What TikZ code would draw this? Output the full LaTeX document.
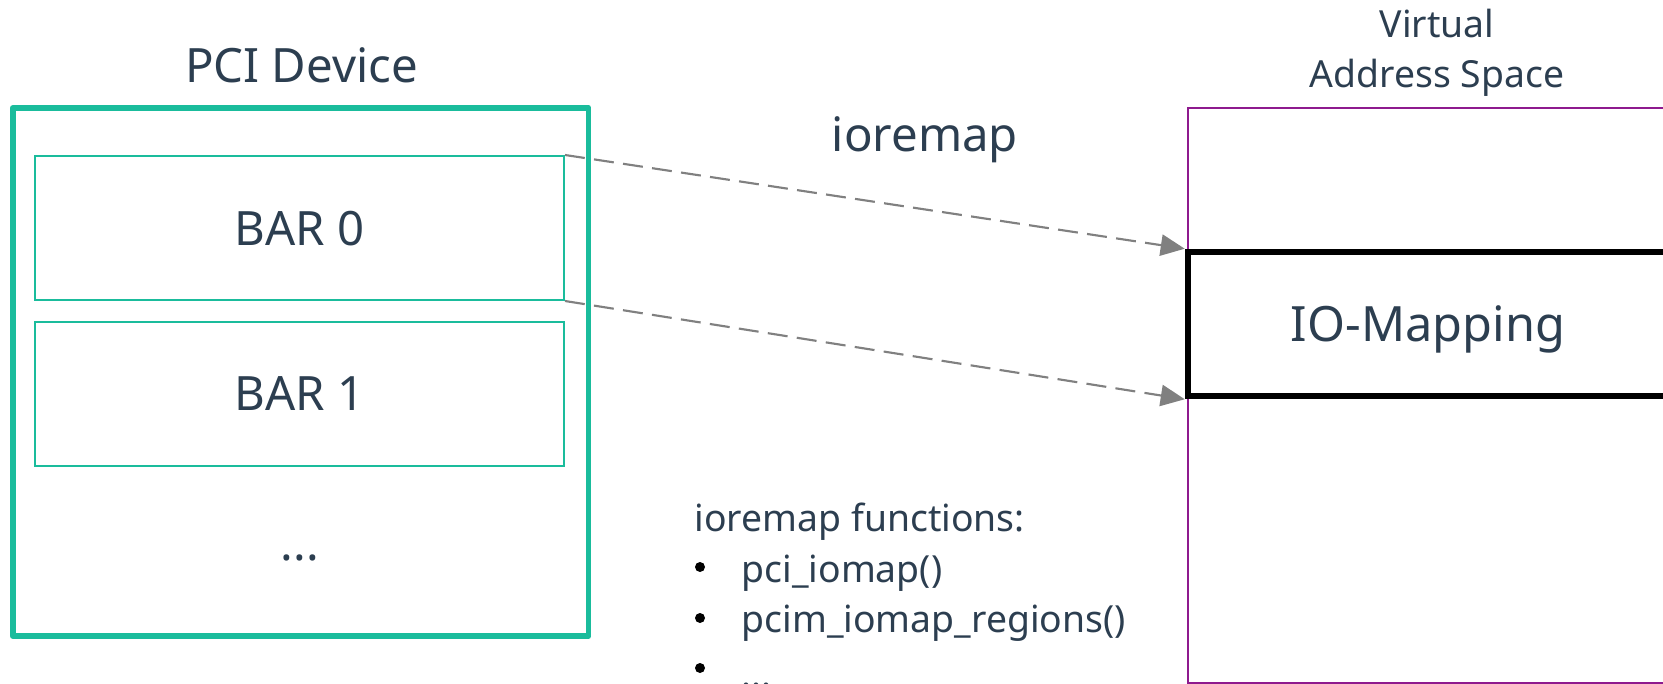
\documentclass[tikz,border=0pt]{standalone}
\usepackage{fontspec}
\setmainfont{Noto Sans}
\usetikzlibrary{arrows.meta}

\definecolor{ink}{HTML}{2C3E50}
\definecolor{pciteal}{HTML}{1ABC9C}
\definecolor{vpurple}{HTML}{8E1A8E}
\definecolor{mapgray}{HTML}{808080}

\tikzset{
  bigtext/.style={font=\fontsize{35.5}{42}\selectfont, text=ink},
  midtext/.style={font=\fontsize{28}{34}\selectfont, text=ink},
  devbox/.style={draw=pciteal, line width=4.3pt, line join=round, inner sep=0pt},
  barbox/.style={draw=pciteal, line width=1.5pt, inner sep=0pt, bigtext,
                 minimum width=396.75pt, minimum height=108pt, text depth=0pt},
  vabox/.style={draw=vpurple, line width=1.6pt, inner sep=0pt},
  iobox/.style={draw=black, line width=4.9pt, inner sep=0pt, bigtext,
                font=\fontsize{36.5}{44}\selectfont, text depth=0pt,
                minimum width=360pt, minimum height=108pt},
  maparrow/.style={draw=mapgray, line width=1.6pt, dash pattern=on 15pt off 7pt,
                   -{Triangle[length=18pt, width=16pt, fill=mapgray]}},
  listdot/.style={circle, fill=black, inner sep=0pt, minimum size=7.5pt},
}

\begin{document}
\begin{tikzpicture}[x=0.75pt, y=-0.75pt]
\useasboundingbox (0,0) rectangle (1663,684);
\clip (0,0) rectangle (1663,684);

% PCI device with its BARs
\node[devbox, minimum width=431.9pt, minimum height=396pt] (dev) at (300.6,372) {};
\node[anchor=base, bigtext] (devtitle) at (301.5,83) {PCI Device};
\node[barbox] (bar0) at (299.5,228) {BAR 0};
\node[barbox] (bar1) at (299.5,394) {BAR 1};
\node[anchor=base, bigtext] (more) at (300,560) {...};

% virtual address space with the mapped region
\node[vabox, minimum width=360pt, minimum height=431.25pt] (va) at (1428,395.5) {};
\node[anchor=base, midtext] (vatitle1) at (1437,38) {Virtual};
\node[anchor=base, midtext] (vatitle2) at (1437,88) {Address Space};
\node[iobox] (io) at (1428,324) {IO-Mapping};

% ioremap connectors
\node[anchor=base, bigtext] (ioremap) at (925,152) {ioremap};
\draw[maparrow] (bar0.north east) -- (io.north west);
\draw[maparrow] (bar0.south east) -- (io.south west);

% list of ioremap functions
\node[anchor=base west, midtext] (fnhead) at (690,531) {ioremap functions:};
\node[listdot] (b1) at (700,567) {};
\node[anchor=base west, midtext] (fn1) at (737,582) {pci\_iomap()};
\node[listdot] (b2) at (700,618) {};
\node[anchor=base west, midtext] (fn2) at (737,632) {pcim\_iomap\_regions()};
\node[listdot] (b3) at (700,668) {};
\node[anchor=base west, midtext] (fn3) at (737,687) {...};
\end{tikzpicture}
\end{document}
